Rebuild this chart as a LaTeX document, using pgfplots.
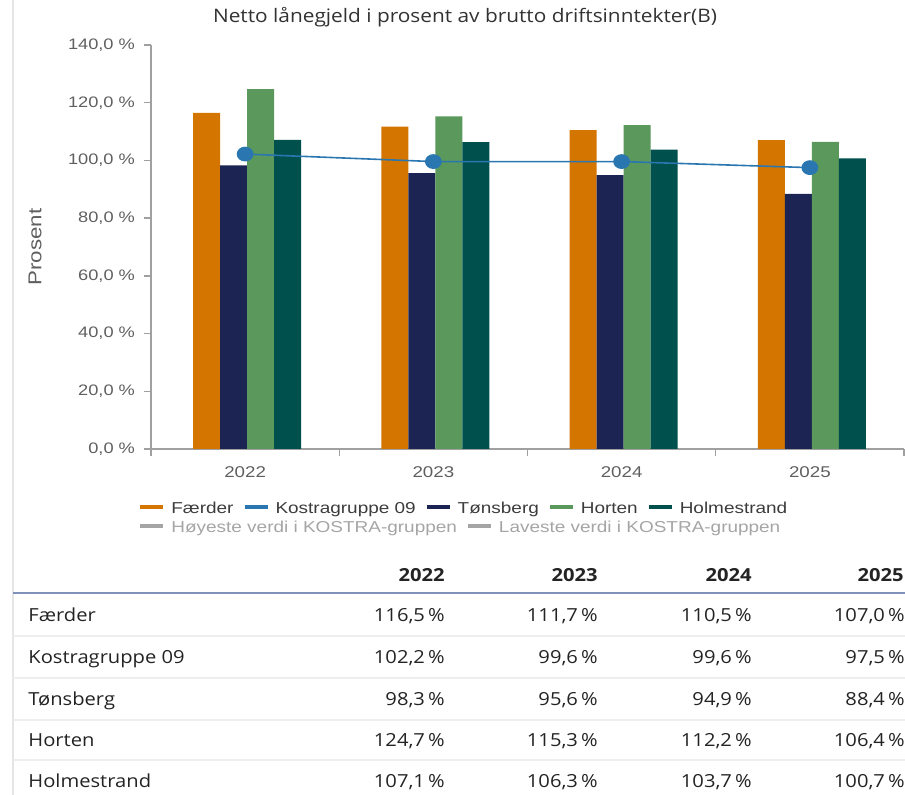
\documentclass[border=0pt]{standalone}
\usepackage{pgfplots}
\pgfplotsset{compat=1.18}
\usepackage{fontspec}
\setmainfont{Liberation Sans}[FakeStretch=1.2]
\newfontfamily\osans{Open Sans}[FakeStretch=1.12]
\definecolor{cfaer}{RGB}{212,117,0}
\definecolor{ckos}{RGB}{41,118,176}
\definecolor{cton}{RGB}{27,36,82}
\definecolor{chor}{RGB}{91,152,91}
\definecolor{chol}{RGB}{0,80,78}
\definecolor{tgray}{RGB}{95,95,95}
\definecolor{lgtxt}{RGB}{60,60,60}
\definecolor{lgray}{RGB}{165,165,165}
\definecolor{axgray}{RGB}{160,160,160}
\definecolor{hdline}{RGB}{130,145,185}
\newcommand\pc[1]{\pgfmathprintnumber[fixed,fixed zerofill,precision=1,use comma,assume math mode=true]{#1}\,\%}
\begin{document}
\begin{tikzpicture}
\useasboundingbox (0,0) rectangle (452.5pt,-397.5pt);
\draw[gray!20, line width=0.8pt] (6.5pt,0) -- (6.5pt,-397.5pt);
% title
\node[font=\osans\fontsize{9.3}{11}\selectfont, text={rgb,255:red,50;green,50;blue,50}] at (232.5pt,-8.5pt) {Netto lånegjeld i prosent av brutto driftsinntekter(B)};
% y label
\node[rotate=90, font=\fontsize{9.3}{11}\selectfont, text=tgray] at (17.5pt,-123.5pt) {Prosent};
\begin{axis}[
  at={(75.5pt,-224.5pt)}, anchor=south west,
  scale only axis, width=376.5pt, height=202pt,
  xmin=-0.5, xmax=3.5, ymin=0, ymax=140,
  axis x line*=bottom, axis y line*=left,
  axis line style={axgray, line width=0.7pt},
  xtick={-0.5,0.5,1.5,2.5,3.5},
  xticklabels={2022,2023,2024,2025},
  x tick label as interval=true,
  ytick={0,20,...,140},
  tick align=outside,
  major tick length=3.5pt,
  tick style={axgray, line width=0.7pt},
  yticklabel={\pgfmathprintnumber[fixed,fixed zerofill,precision=1,use comma,assume math mode=true]{\tick}~\%},
  yticklabel style={font=\fontsize{7.6}{9}\selectfont, text=tgray, xshift=-1pt},
  xticklabel style={font=\fontsize{7.8}{9}\selectfont, text=tgray, yshift=-2pt},
  clip=false,
]
\addplot[ybar, bar width=13.5pt, bar shift=-19.25pt, fill=cfaer, draw=none] coordinates {(0,116.5)(1,111.7)(2,110.5)(3,107.0)};
\addplot[ybar, bar width=13.5pt, bar shift=-5.75pt, fill=cton, draw=none] coordinates {(0,98.3)(1,95.6)(2,94.9)(3,88.4)};
\addplot[ybar, bar width=13.5pt, bar shift=7.75pt, fill=chor, draw=none] coordinates {(0,124.7)(1,115.3)(2,112.2)(3,106.4)};
\addplot[ybar, bar width=13.5pt, bar shift=21.25pt, fill=chol, draw=none] coordinates {(0,107.1)(1,106.3)(2,103.7)(3,100.7)};
\addplot[ckos, line width=0.8pt, mark=*, mark size=3.3pt, mark options={fill=ckos, draw=ckos, xscale=1.15}] coordinates {(0,102.2)(1,99.6)(2,99.6)(3,97.5)};
\end{axis}
% legend
\node[anchor=west, inner sep=0pt, font=\fontsize{7.9}{9}\selectfont, text=lgtxt] at (70pt,-254.5pt) {%
{\color{cfaer}\rule[0.28em]{11.5pt}{2pt}}\hspace{4pt}Færder\hspace{5.5pt}%
{\color{ckos}\rule[0.28em]{11.5pt}{2pt}}\hspace{4pt}Kostragruppe 09\hspace{5.5pt}%
{\color{cton}\rule[0.28em]{11.5pt}{2pt}}\hspace{4pt}Tønsberg\hspace{5.5pt}%
{\color{chor}\rule[0.28em]{11.5pt}{2pt}}\hspace{4pt}Horten\hspace{5.5pt}%
{\color{chol}\rule[0.28em]{11.5pt}{2pt}}\hspace{4pt}Holmestrand};
\node[anchor=west, inner sep=0pt, font=\fontsize{7.9}{9}\selectfont, text=lgray] at (70pt,-264pt) {%
{\color{lgray}\rule[0.28em]{11.5pt}{2pt}}\hspace{4pt}Høyeste verdi i KOSTRA-gruppen\hspace{5.5pt}%
{\color{lgray}\rule[0.28em]{11.5pt}{2pt}}\hspace{4pt}Laveste verdi i KOSTRA-gruppen};
% table
\begin{scope}[every node/.style={font=\osans\fontsize{9}{11}\selectfont, text={rgb,255:red,35;green,35;blue,35}, inner sep=0pt}]
\foreach \x/\y in {222.5/2022, 299/2023, 376/2024, 452/2025}
  \node[anchor=base east, font=\osans\bfseries\fontsize{9}{11}\selectfont] at (\x pt,-291pt) {\y};
\draw[hdline, line width=1pt] (6.5pt,-296.5pt) -- (452.5pt,-296.5pt);
\foreach \yy in {-318,-339,-360,-380}
  \draw[gray!13, line width=1pt] (6.5pt,\yy pt) -- (452.5pt,\yy pt);
\foreach \r/\n/\a/\b/\c/\d in {
  -311/Færder/116.5/111.7/110.5/107.0,
  -332/Kostragruppe 09/102.2/99.6/99.6/97.5,
  -353/Tønsberg/98.3/95.6/94.9/88.4,
  -373.5/Horten/124.7/115.3/112.2/106.4,
  -394/Holmestrand/107.1/106.3/103.7/100.7}{
  \node[anchor=base west] at (14pt,\r pt) {\n};
  \node[anchor=base east] at (222.5pt,\r pt) {\pc{\a}};
  \node[anchor=base east] at (299pt,\r pt) {\pc{\b}};
  \node[anchor=base east] at (376pt,\r pt) {\pc{\c}};
  \node[anchor=base east] at (452.5pt,\r pt) {\pc{\d}};
}
\end{scope}
\end{tikzpicture}
\end{document}
